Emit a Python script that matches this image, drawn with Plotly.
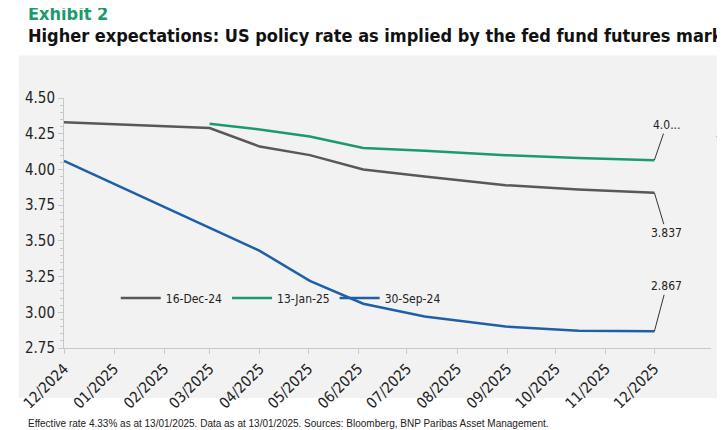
import plotly.graph_objects as go

# meeting-ish dates
dates_dec = ["2024-12-01", "2025-03-01", "2025-04-01", "2025-05-02", "2025-06-04",
             "2025-07-12", "2025-08-31", "2025-10-15", "2025-12-01"]
rate_dec = [4.33, 4.29, 4.16, 4.10, 4.00, 3.95, 3.89, 3.86, 3.837]

dates_jan = ["2025-03-01", "2025-04-01", "2025-05-02", "2025-06-04",
             "2025-07-12", "2025-08-31", "2025-10-15", "2025-12-01"]
rate_jan = [4.32, 4.28, 4.23, 4.15, 4.13, 4.10, 4.08, 4.065]

dates_sep = ["2024-12-01", "2025-04-01", "2025-05-02", "2025-06-04",
             "2025-07-12", "2025-08-31", "2025-10-15", "2025-12-01"]
rate_sep = [4.06, 3.43, 3.22, 3.06, 2.97, 2.90, 2.87, 2.867]

tick_dates = ["2024-12-01"] + ["2025-%02d-01" % m for m in range(1, 13)]
tick_text = ["12/2024"] + ["%02d/2025" % m for m in range(1, 13)]

font = "Liberation Sans Narrow, DejaVu Sans Condensed, sans-serif"

fig = go.Figure()
fig.add_trace(go.Scatter(x=dates_dec, y=rate_dec, mode="lines", name="16-Dec-24",
                         line=dict(color="#58585a", width=2.5)))
fig.add_trace(go.Scatter(x=dates_jan, y=rate_jan, mode="lines", name="13-Jan-25",
                         line=dict(color="#1b9a6c", width=2.5)))
fig.add_trace(go.Scatter(x=dates_sep, y=rate_sep, mode="lines", name="30-Sep-24",
                         line=dict(color="#1f5fa8", width=2.5)))

# end labels with leader lines
for yv, txt, ay in [(rate_jan[-1], "4.0...", -35), (rate_dec[-1], "3.837", 40), (rate_sep[-1], "2.867", -45)]:
    fig.add_annotation(x=dates_dec[-1], y=yv, text=txt, showarrow=True, arrowhead=0,
                       arrowwidth=1, arrowcolor="#333", ax=12, ay=ay,
                       xanchor="center", font=dict(size=12, color="#222"))

# big upward arrow at the right
fig.add_annotation(xref="x domain", yref="y domain", x=1.015, y=0.88, ax=1.015, ay=0.10,
                   axref="x domain", ayref="y domain", text="", showarrow=True,
                   arrowhead=2, arrowwidth=2.2, arrowcolor="#1f6a9a", arrowsize=0.8)

fig.add_shape(type="rect", xref="paper", yref="paper", x0=-0.07, x1=1.04, y0=-0.2, y1=1.17,
              fillcolor="#f2f2f2", line_width=0, layer="below")

fig.update_layout(
    width=725, height=430,
    paper_bgcolor="white", plot_bgcolor="rgba(0,0,0,0)",
    margin=dict(l=44, r=22, t=90, b=90),
    font=dict(family=font, size=13, color="#222"),
    showlegend=True,
    legend=dict(orientation="h", x=0.08, y=0.2, xanchor="left", yanchor="middle",
                bgcolor="rgba(0,0,0,0)", font=dict(size=12), itemwidth=40),
    xaxis=dict(range=["2024-12-01", "2026-01-05"], tickvals=tick_dates, ticktext=tick_text,
               tickangle=-45, showgrid=False, showline=True, linecolor="#c8c8c8",
               ticks="outside", tickcolor="#c8c8c8", tickfont=dict(size=15)),
    yaxis=dict(range=[2.75, 4.5], tickvals=[2.75, 3.0, 3.25, 3.5, 3.75, 4.0, 4.25, 4.5],
               tickformat=".2f", showgrid=False, showline=True, linecolor="#c8c8c8",
               ticks="outside", tickcolor="#c8c8c8", tickfont=dict(size=15),
               minor=dict(dtick=0.05, ticks="outside", ticklen=3, tickcolor="#c8c8c8")),
)

fig.add_annotation(xref="paper", yref="paper", x=-0.058, y=1.39, xanchor="left", showarrow=False,
                   text="<b>Exhibit 2</b>", font=dict(size=18, color="#1b9a6c"))
fig.add_annotation(xref="paper", yref="paper", x=-0.058, y=1.3, xanchor="left", showarrow=False,
                   text="<b>Higher expectations: US policy rate as implied by the fed fund futures market</b>",
                   font=dict(size=18, color="#111"))
fig.add_annotation(xref="paper", yref="paper", x=-0.058, y=-0.33, xanchor="left", showarrow=False,
                   text="Effective rate 4.33% as at 13/01/2025. Data as at 13/01/2025. Sources: Bloomberg, BNP Paribas Asset Management.",
                   font=dict(size=10, color="#222", family="Liberation Sans, sans-serif"))

fig.write_html("out.html")
